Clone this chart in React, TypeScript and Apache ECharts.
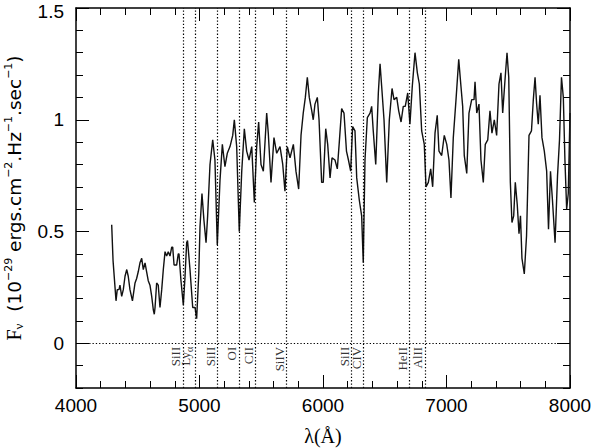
import React, { useEffect, useRef } from 'react';
import * as echarts from 'echarts';

const wavelength = [
  4289, 4300, 4316, 4324, 4334, 4348, 4356, 4370, 4383, 4397, 4411, 4423, 4437, 4457, 4478, 4491, 4504, 4518, 4532, 4545,
  4559, 4572, 4585, 4599, 4613, 4626, 4634, 4640, 4653, 4666, 4680, 4694, 4707, 4721, 4734, 4747, 4761, 4775, 4783, 4794,
  4815, 4828, 4834, 4850, 4869, 4883, 4896, 4903, 4923, 4945, 4964, 4977, 4994, 5004, 5020, 5036, 5053, 5066, 5085, 5107,
  5125, 5144, 5166, 5185, 5206, 5225, 5247, 5269, 5282, 5301, 5322, 5342, 5363, 5382, 5401, 5423, 5444, 5463, 5479, 5498,
  5517, 5544, 5557, 5579, 5603, 5625, 5652, 5674, 5692, 5711, 5733, 5760, 5781, 5803, 5822, 5840, 5857, 5873, 5889, 5909,
  5921, 5935, 5954, 5968, 5989, 6002, 6022, 6038, 6057, 6073, 6097, 6116, 6132, 6151, 6170, 6190, 6206, 6224, 6240, 6259,
  6273, 6294, 6313, 6326, 6340, 6359, 6381, 6394, 6407, 6427, 6448, 6462, 6475, 6494, 6516, 6537, 6559, 6575, 6597, 6613,
  6632, 6650, 6666, 6686, 6704, 6723, 6745, 6764, 6780, 6799, 6820, 6834, 6853, 6872, 6888, 6907, 6925, 6939, 6961, 6982,
  7002, 7020, 7036, 7055, 7077, 7099, 7117, 7131, 7144, 7164, 7182, 7204, 7223, 7231, 7245, 7263, 7279, 7298, 7314, 7334,
  7352, 7368, 7387, 7406, 7425, 7441, 7455, 7474, 7490, 7504, 7517, 7530, 7544, 7557, 7573, 7587, 7599, 7611, 7630, 7648,
  7668, 7688, 7703, 7717, 7730, 7743, 7757, 7773, 7792, 7811, 7826, 7842, 7858, 7879, 7899, 7915, 7931, 7946, 7959, 7973,
  7986, 8000,
];

const flux = [
  0.53, 0.37, 0.25, 0.19, 0.24, 0.24, 0.26, 0.21, 0.24, 0.30, 0.33, 0.30, 0.24, 0.19, 0.27, 0.29, 0.32, 0.36, 0.38, 0.33,
  0.36, 0.32, 0.28, 0.26, 0.21, 0.15, 0.13, 0.16, 0.27, 0.26, 0.16, 0.24, 0.33, 0.41, 0.39, 0.41, 0.39, 0.43, 0.43, 0.35,
  0.35, 0.40, 0.40, 0.28, 0.17, 0.30, 0.45, 0.46, 0.33, 0.16, 0.16, 0.11, 0.31, 0.52, 0.67, 0.55, 0.45, 0.57, 0.80, 0.91,
  0.82, 0.44, 0.73, 0.89, 0.79, 0.85, 0.88, 0.93, 1.00, 0.88, 0.50, 0.77, 0.96, 0.86, 0.82, 0.88, 0.63, 0.88, 0.99, 0.80,
  0.77, 1.03, 0.94, 0.72, 0.92, 0.85, 0.88, 0.80, 0.68, 0.88, 0.83, 0.89, 0.77, 0.69, 0.93, 1.03, 1.10, 1.19, 1.10, 1.04,
  1.00, 1.07, 1.10, 1.00, 0.72, 0.72, 0.96, 0.89, 0.74, 0.83, 0.82, 0.78, 0.90, 1.05, 1.03, 0.86, 0.82, 0.77, 0.97, 0.95,
  0.74, 0.64, 0.57, 0.36, 0.82, 1.01, 1.03, 1.06, 0.95, 0.80, 1.12, 1.25, 1.15, 1.00, 0.72, 1.00, 1.14, 1.09, 1.10, 1.04,
  0.99, 1.06, 1.06, 1.12, 0.98, 1.15, 1.30, 1.21, 1.16, 0.95, 0.89, 0.70, 0.72, 0.78, 0.70, 0.94, 1.02, 0.86, 0.84, 0.93,
  0.89, 0.82, 0.65, 0.92, 1.09, 1.27, 1.15, 1.06, 0.84, 0.76, 1.03, 1.09, 1.09, 1.17, 1.03, 1.07, 0.82, 0.72, 0.89, 0.91,
  1.04, 0.94, 1.00, 0.93, 1.16, 1.21, 1.03, 1.18, 1.30, 1.19, 0.72, 0.54, 0.57, 0.72, 0.62, 0.49, 0.57, 0.38, 0.31, 0.48,
  0.93, 0.95, 1.09, 1.19, 1.07, 0.98, 1.11, 0.92, 0.86, 0.77, 0.51, 0.77, 0.64, 0.45, 0.75, 0.91, 1.19, 1.10, 0.82, 0.60,
  0.67, 1.03,
];

const lineWavelengths = [4866, 4966, 5144, 5318, 5452, 5705, 6232, 6326, 6698, 6824];
const lineLabels = ['SiII', '{n|Ly}{s|α}', 'SiII', 'OI', 'CII', 'SiIV', 'SiII', 'CIV', 'HeII', 'AlII'];
const yMajorTicks = [0, 0.5, 1, 1.5];
const xRange = [4000, 8000];
const yRange = [-0.2, 1.5];

export default function App() {
  const ref = useRef<HTMLDivElement>(null);
  useEffect(() => {
    const chart = echarts.init(ref.current!, null, { renderer: 'svg' });
    const black = '#000';
    const sans = '"Liberation Sans", Arial, sans-serif';
    const serif = '"Liberation Serif", "DejaVu Serif", serif';
    const axisLine = { show: true, onZero: false, lineStyle: { color: black, width: 1.5 } };

    const xAxisBase = (position: string, showLabel: boolean) => ({
      type: 'value',
      position,
      min: xRange[0],
      max: xRange[1],
      interval: 1000,
      axisLine,
      axisTick: { show: true, inside: true, length: 13, lineStyle: { color: black, width: 1 } },
      minorTick: { show: true, splitNumber: 5, length: 7, lineStyle: { color: black, width: 1 } },
      splitLine: { show: false },
      minorSplitLine: { show: false },
      axisLabel: {
        show: showLabel,
        color: black,
        fontSize: 19,
        fontFamily: sans,
        margin: 8,
        formatter: (v: number) => String(v),
      },
    });

    const yMinor = (position: string) => ({
      type: 'value',
      position,
      min: yRange[0],
      max: yRange[1],
      interval: 0.1,
      axisLine,
      axisTick: { show: true, inside: true, length: 7, lineStyle: { color: black, width: 1 } },
      axisLabel: { show: false },
      splitLine: { show: false },
    });

    const yMajor = (position: string, showLabel: boolean) => ({
      type: 'value',
      position,
      min: yRange[0],
      max: yRange[1],
      interval: 0.1,
      axisLine: { show: false, onZero: false },
      axisTick: {
        show: true,
        inside: true,
        length: 13,
        customValues: yMajorTicks,
        lineStyle: { color: black, width: 1 },
      },
      axisLabel: {
        show: showLabel,
        customValues: yMajorTicks,
        color: black,
        fontSize: 19,
        fontFamily: sans,
        margin: 12,
        formatter: (v: number) => (v >= 1.5 ? '{t|' + v + '}' : String(v)),
        rich: {
          t: { fontSize: 19, fontFamily: sans, color: black, lineHeight: 14, padding: [6, 0, 0, 0] },
        },
      },
      splitLine: { show: false },
    });

    const titleY = {
      ...yMajor('left', true),
      name:
        '{f|F}{sub|ν}{m|  (10}{sup|−29}{m| ergs.cm}{sup|−2}{m|.Hz}{sup|−1}{m|.sec}{sup|−1}{m|)}',
      nameLocation: 'middle',
      nameRotate: 90,
      nameGap: 51,
      nameTextStyle: {
        color: black,
        rich: {
          f: { fontSize: 20, fontFamily: serif, lineHeight: 22, verticalAlign: 'middle', color: black },
          sub: { fontSize: 13, fontFamily: serif, lineHeight: 13, verticalAlign: 'bottom', color: black },
          m: { fontSize: 18.5, fontFamily: '"DejaVu Sans", sans-serif', lineHeight: 22, verticalAlign: 'middle', color: black },
          sup: { fontSize: 11, fontFamily: '"DejaVu Sans", sans-serif', lineHeight: 11, verticalAlign: 'top', color: black },
        },
      },
    };

    const option = {
      animation: false,
      backgroundColor: '#fff',
      grid: { left: 76, right: 26, top: 8, bottom: 60, containLabel: false, outerBoundsMode: 'none' },
      xAxis: [
        {
          ...xAxisBase('bottom', true),
          name: 'λ(Å)',
          nameLocation: 'middle',
          nameGap: 38,
          nameTextStyle: { color: black, fontSize: 20, fontFamily: serif },
        },
        xAxisBase('top', false),
      ],
      yAxis: [yMinor('left'), titleY, yMinor('right'), yMajor('right', false)],
      series: [
        {
          type: 'line',
          xAxisIndex: 0,
          yAxisIndex: 0,
          data: wavelength.map((w, i) => [w, flux[i]]),
          showSymbol: false,
          symbol: 'none',
          lineStyle: { color: '#111', width: 1.4 },
          silent: true,
          markLine: {
            silent: true,
            symbol: ['none', 'none'],
            label: { show: false },
            lineStyle: { color: black, width: 1.2, type: [1.3, 2] },
            emphasis: { disabled: true },
            data: [...lineWavelengths.map((w) => ({ xAxis: w })), { yAxis: 0 }],
          },
        },
        {
          type: 'scatter',
          xAxisIndex: 0,
          yAxisIndex: 0,
          data: lineWavelengths.map((w) => [w, 0]),
          symbolSize: 1,
          itemStyle: { color: 'rgba(0,0,0,0)' },
          silent: true,
          label: {
            show: true,
            formatter: (p: any) => lineLabels[p.dataIndex],
            position: [0, 4],
            rotate: 90,
            align: 'right',
            verticalAlign: 'bottom',
            fontFamily: serif,
            fontSize: 13,
            color: black,
            rich: {
              n: { fontSize: 13, fontFamily: serif, color: black, lineHeight: 16, verticalAlign: 'top' },
              s: { fontSize: 10, fontFamily: serif, color: black, lineHeight: 10, verticalAlign: 'bottom' },
            },
          },
        },
      ],
    };

    chart.setOption(option as any);
    return () => chart.dispose();
  }, []);
  return <div ref={ref} style={{ position: 'absolute', left: 0, top: 0, width: 596, height: 448 }} />;
}
